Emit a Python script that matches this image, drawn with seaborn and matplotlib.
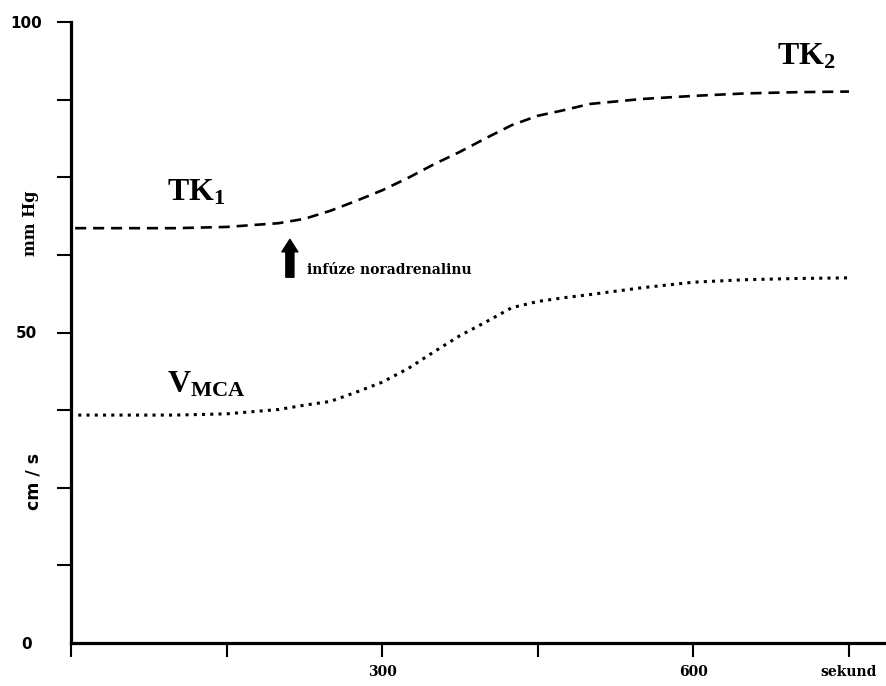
import numpy as np
import pandas as pd
import matplotlib
matplotlib.use("Agg")
import matplotlib.pyplot as plt
import seaborn as sns

# ---- data ----
time_s = [4, 50, 100, 150, 200, 225, 250, 275, 300, 325, 350, 375, 400,
          425, 450, 475, 500, 550, 600, 650, 700, 750]
tk_mmhg = [66.8, 66.8, 66.8, 67.0, 67.6, 68.3, 69.6, 71.2, 72.9, 74.9, 77.1,
           79.1, 81.3, 83.4, 84.9, 85.8, 86.8, 87.6, 88.1, 88.5, 88.7, 88.8]
time_v = [7, 50, 100, 150, 200, 225, 250, 275, 300, 325, 350, 375, 400,
          425, 450, 475, 500, 550, 600, 650, 700, 750]
vmca_cms = [36.7, 36.7, 36.7, 36.9, 37.6, 38.3, 38.9, 40.4, 42.0, 44.2, 46.9,
            49.5, 51.7, 54.0, 55.0, 55.6, 56.1, 57.2, 58.1, 58.5, 58.7, 58.8]

x_ticks = [0, 150, 300, 450, 600, 750]
x_tick_labels = ["", "", "300", "", "600", "sekund"]
y_ticks = [0, 12.5, 25, 37.5, 50, 62.5, 75, 87.5, 100]
y_tick_labels = ["0", "", "", "", "50", "", "", "", "100"]

label_tk1 = r"$\mathrm{TK}_{1}$"
label_tk2 = r"$\mathrm{TK}_{2}$"
label_vmca = r"$\mathrm{V}_{\mathrm{MCA}}$"
arrow_text = "infúze noradrenalinu"
ylabel_top = "mm Hg"
ylabel_bottom = "cm / s"

# ---- style ----
sns.set_style("white")
plt.rcParams["font.family"] = ["DejaVu Sans"]
plt.rcParams["text.color"] = "black"
plt.rcParams["xtick.color"] = "black"
plt.rcParams["ytick.color"] = "black"
plt.rcParams["xtick.labelcolor"] = "black"
plt.rcParams["ytick.labelcolor"] = "black"
plt.rcParams["mathtext.fontset"] = "custom"
plt.rcParams["mathtext.rm"] = "Liberation Serif:bold"
plt.rcParams["mathtext.it"] = "Liberation Serif:bold"
plt.rcParams["mathtext.bf"] = "Liberation Serif:bold"

W, H = 887, 686
fig = plt.figure(figsize=(W / 100, H / 100), dpi=100)
fig.patch.set_facecolor("white")
ax = fig.add_axes([71 / W, 43 / H, (W - 71) / W, 621 / H])
ax.set_facecolor("white")

df_tk = pd.DataFrame({"t": time_s, "v": tk_mmhg})
df_v = pd.DataFrame({"t": time_v, "v": vmca_cms})

sns.lineplot(data=df_tk, x="t", y="v", ax=ax, color="black", lw=1.9,
             linestyle=(0, (4.2, 2.6)), solid_capstyle="butt")
sns.lineplot(data=df_v, x="t", y="v", ax=ax, color="black", lw=2.2,
             linestyle=(0, (1.0, 1.7)), solid_capstyle="butt")

ax.set_xlim(0, 786.6)
ax.set_ylim(0, 100)
ax.set_xlabel("")
ax.set_ylabel("")

for s in ["top", "right"]:
    ax.spines[s].set_visible(False)
for s in ["left", "bottom"]:
    ax.spines[s].set_linewidth(2.3)
    ax.spines[s].set_color("black")

ax.set_xticks(x_ticks)
ax.set_xticklabels(x_tick_labels, fontfamily="DejaVu Serif",
                   fontweight="bold", fontsize=10, color="black")
ax.set_yticks(y_ticks)
ax.set_yticklabels(y_tick_labels, fontfamily="DejaVu Sans",
                   fontweight="bold", fontsize=11, color="black")
ax.tick_params(axis="both", direction="out", length=10, width=1.5,
               color="black", bottom=True, left=True)
ax.tick_params(axis="x", pad=6)
ax.tick_params(axis="y", pad=22)
for lab in ax.get_yticklabels():
    lab.set_horizontalalignment("center")
ax.yaxis.get_major_ticks()[0].tick1line.set_visible(False)

# curve labels
ax.text(92.5, 71.3, label_tk1, fontsize=23, va="baseline", ha="left", color="black")
ax.text(680.6, 93.1, label_tk2, fontsize=23, va="baseline", ha="left", color="black")
ax.text(92.5, 40.4, label_vmca, fontsize=23, va="baseline", ha="left", color="black")

# arrow + annotation
ax.annotate("", xy=(211, 65.0), xytext=(211, 58.9),
            arrowprops=dict(arrowstyle="simple,head_length=0.9,head_width=1.15,tail_width=0.58",
                            color="black", mutation_scale=10,
                            shrinkA=0, shrinkB=0))
ax.text(227.5, 59.4, arrow_text, fontsize=10, fontfamily="DejaVu Serif",
        fontweight="bold", va="baseline", ha="left", color="black")

# axis unit labels
fig.text(31 / W, 1 - 223 / H, ylabel_top, rotation=90, ha="center",
         va="center", fontsize=11.5, fontfamily="DejaVu Serif",
         fontweight="bold", color="black")
fig.text(34 / W, 1 - 481 / H, ylabel_bottom, rotation=90, ha="center",
         va="center", fontsize=12.5, fontfamily="DejaVu Sans",
         fontweight="bold", color="black")

fig.savefig("out.png", dpi=100, facecolor="white")
